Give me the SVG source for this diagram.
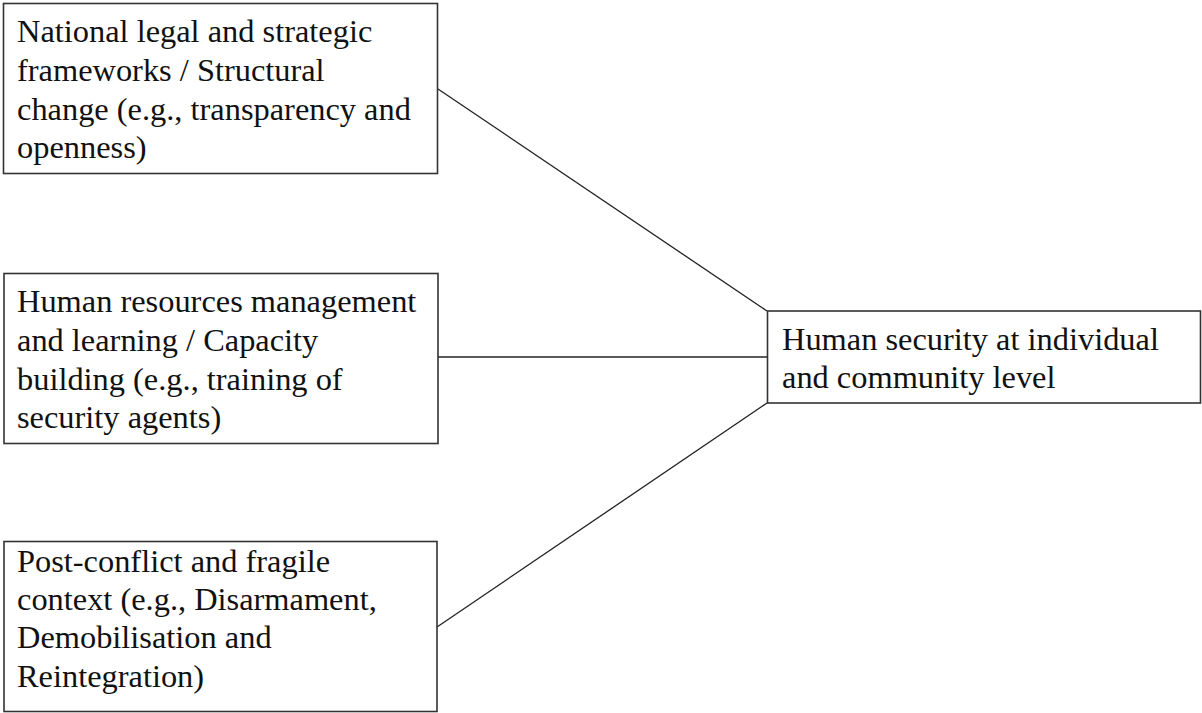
<svg xmlns="http://www.w3.org/2000/svg" width="1202" height="713" viewBox="0 0 1202 713">
<style>
.box{fill:#fff;stroke:#333;stroke-width:1.6}
.t{font-family:"Liberation Serif","Times New Roman",serif;font-size:32.4px;fill:#111}
.c{stroke:#222;stroke-width:1.3;fill:none}
</style>
<rect width="1202" height="713" fill="#fff"/>
<g id="connectors">
<line class="c" x1="438" y1="89" x2="767" y2="311"/>
<line class="c" x1="438" y1="357" x2="767" y2="357"/>
<line class="c" x1="437" y1="627" x2="767" y2="403"/>
</g>
<g id="node1">
<rect class="box" x="3.5" y="3.5" width="434" height="170"/>
<text class="t" x="17"><tspan x="17" y="42">National legal and strategic</tspan><tspan x="17" y="81">frameworks / Structural</tspan><tspan x="17" y="120">change (e.g., transparency and</tspan><tspan x="17" y="158">openness)</tspan></text>
</g>
<g id="node2">
<rect class="box" x="4" y="273.5" width="434" height="170"/>
<text class="t"><tspan x="17" y="312">Human resources management</tspan><tspan x="17" y="351">and learning / Capacity</tspan><tspan x="17" y="390">building (e.g., training of</tspan><tspan x="17" y="428">security agents)</tspan></text>
</g>
<g id="node3">
<rect class="box" x="4" y="541.5" width="433" height="170"/>
<text class="t"><tspan x="17" y="572">Post-conflict and fragile</tspan><tspan x="17" y="610">context (e.g., Disarmament,</tspan><tspan x="17" y="648">Demobilisation and</tspan><tspan x="17" y="687">Reintegration)</tspan></text>
</g>
<g id="node4">
<rect class="box" x="767.5" y="311" width="433" height="92"/>
<text class="t"><tspan x="782" y="350">Human security at individual</tspan><tspan x="782" y="388">and community level</tspan></text>
</g>
</svg>
